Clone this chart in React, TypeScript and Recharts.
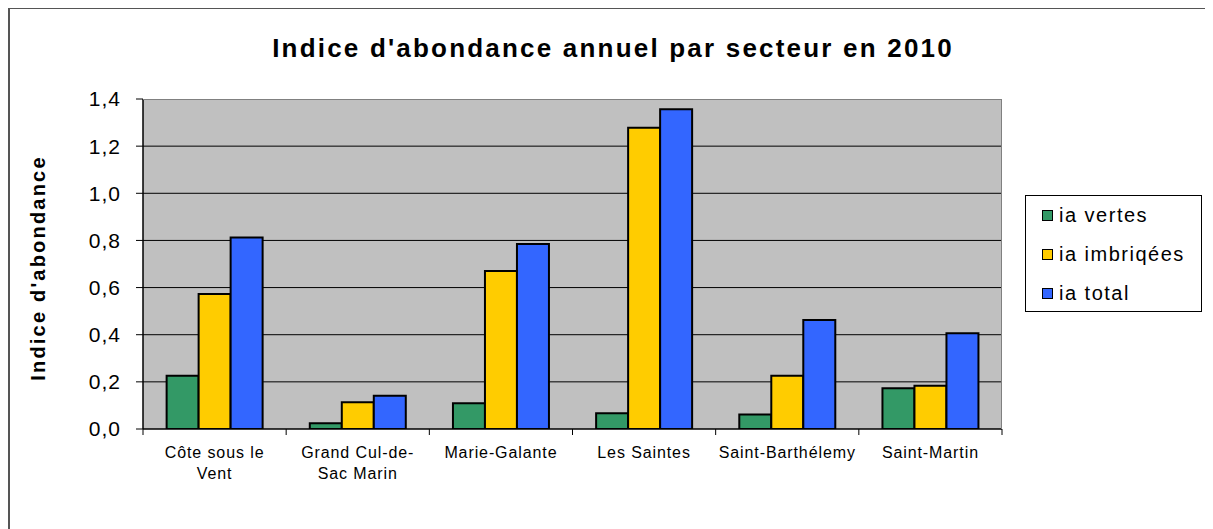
import { BarChart, Bar, XAxis, YAxis, CartesianGrid } from "recharts";

const categories = ["Côte sous le Vent", "Grand Cul-de-Sac Marin", "Marie-Galante", "Les Saintes", "Saint-Barthélemy", "Saint-Martin"];
const tickLines = [["Côte sous le", "Vent"], ["Grand Cul-de-", "Sac Marin"], ["Marie-Galante"], ["Les Saintes"], ["Saint-Barthélemy"], ["Saint-Martin"]];
const iaVertes = [0.226, 0.024, 0.109, 0.067, 0.062, 0.173];
const iaImbriquees = [0.573, 0.113, 0.67, 1.278, 0.226, 0.184];
const iaTotal = [0.812, 0.141, 0.785, 1.356, 0.462, 0.406];
const yTicks = [0, 0.2, 0.4, 0.6, 0.8, 1.0, 1.2, 1.4];

const series = [
  { key: "vertes", name: "ia vertes", color: "#339966" },
  { key: "imbriquees", name: "ia imbriqées", color: "#FFCC00" },
  { key: "total", name: "ia total", color: "#3366FF" },
];

const data = categories.map((c, i) => ({
  cat: c,
  vertes: iaVertes[i],
  imbriquees: iaImbriquees[i],
  total: iaTotal[i],
}));

const W = 1205;
const H = 521;
const PLOT_L = 135;
const PLOT_T = 91;
const PLOT_W = 859;
const PLOT_H = 330;
const FONT = "'Liberation Sans', Arial, sans-serif";

function XTick(props: any) {
  const { x, y, payload, index } = props;
  const band = PLOT_W / categories.length;
  const lines = tickLines[index] || [payload.value];
  return (
    <g>
      <line x1={x - band / 2} x2={x - band / 2} y1={y - 8} y2={y - 2} stroke="#000" />
      {index === categories.length - 1 && (
        <line x1={x + band / 2} x2={x + band / 2} y1={y - 8} y2={y - 2} stroke="#000" />
      )}
      {lines.map((l: string, i: number) => (
        <text key={i} x={x} y={y + 21 + i * 21} textAnchor="middle" fontSize={16} letterSpacing={0.9} fill="#000" fontFamily={FONT}>
          {l}
        </text>
      ))}
    </g>
  );
}

export default function App() {
  return (
    <div style={{ position: "relative", width: W, height: H, background: "#fff", fontFamily: FONT }}>
      <div style={{ position: "absolute", left: 0, top: -1, width: W, height: 2, background: "#555" }} />
      <div style={{ position: "absolute", left: 0, top: -1, width: 2, height: H + 1, background: "#555" }} />
      <div style={{ position: "absolute", left: 0, width: 1210, top: 25, textAlign: "center", fontSize: 26, fontWeight: "bold", letterSpacing: 2.2, color: "#000" }}>
        Indice d'abondance annuel par secteur en 2010
      </div>
      <div style={{ position: "absolute", left: 30, top: 260, transform: "translate(-50%, -50%) rotate(-90deg)", whiteSpace: "nowrap", fontSize: 20, fontWeight: "bold", letterSpacing: 2.2, color: "#000" }}>
        Indice d'abondance
      </div>
      <BarChart
        width={W}
        height={H}
        data={data}
        margin={{ top: PLOT_T, right: W - PLOT_L - PLOT_W, bottom: H - PLOT_T - PLOT_H - 60, left: 0 }}
        barCategoryGap="16.5%"
        barGap={0}
      >
        <CartesianGrid
          vertical={false}
          horizontalValues={[0.2, 0.4, 0.6, 0.8, 1.0, 1.2]}
          stroke="#000"
          fill="#C0C0C0"
          fillOpacity={1}
        />
        <XAxis
          dataKey="cat"
          height={60}
          axisLine={{ stroke: "#000", strokeWidth: 1.5 }}
          tickLine={false}
          tick={<XTick />}
          interval={0}
        />
        <YAxis
          width={PLOT_L}
          domain={[0, 1.4]}
          ticks={yTicks}
          allowDataOverflow
          axisLine={{ stroke: "#000", strokeWidth: 1.5 }}
          tickLine={{ stroke: "#000" }}
          tickSize={7}
          tickMargin={15}
          tickFormatter={(v: number) => v.toFixed(1).replace(".", ",")}
          tick={{ fill: "#000", fontSize: 21, fontFamily: FONT, letterSpacing: 1 }}
        />
        {series.map((s) => (
          <Bar key={s.key} dataKey={s.key} name={s.name} fill={s.color} stroke="#000" strokeWidth={2} isAnimationActive={false} />
        ))}
      </BarChart>
      <div style={{ position: "absolute", left: PLOT_L, top: PLOT_T, width: PLOT_W, height: PLOT_H, borderTop: "1px solid #808080", borderRight: "1px solid #808080", boxSizing: "border-box", pointerEvents: "none" }} />
      <div style={{ position: "absolute", left: 1017, top: 187, width: 177, height: 117, border: "1px solid #000", boxSizing: "border-box", background: "#fff" }}>
        {series.map((s, i) => (
          <div key={s.key} style={{ position: "absolute", left: 16, top: 8 + i * 39, display: "flex", alignItems: "center", fontSize: 20, letterSpacing: 1.5, color: "#000" }}>
            <span style={{ display: "inline-block", width: 9, height: 9, background: s.color, border: "1.5px solid #000", marginRight: 6 }} />
            {s.name}
          </div>
        ))}
      </div>
    </div>
  );
}
